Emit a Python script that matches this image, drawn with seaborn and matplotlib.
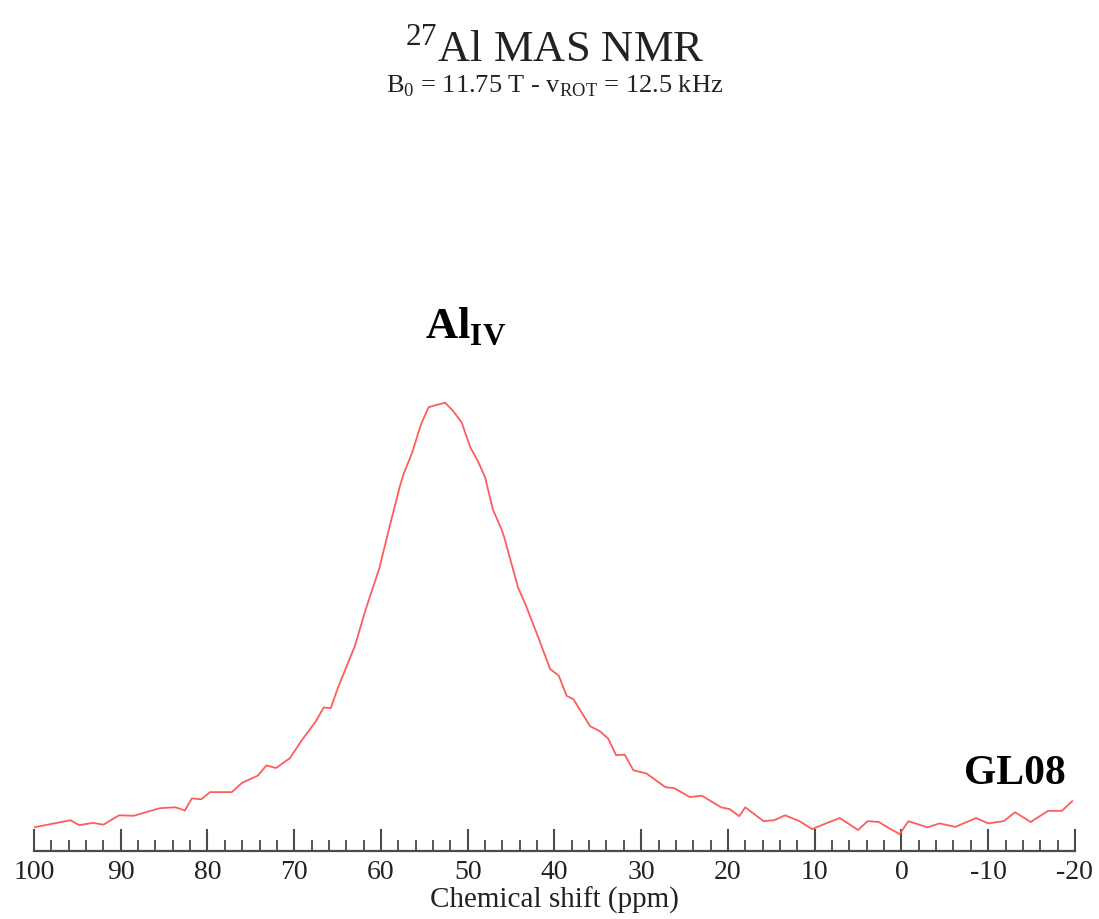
import pandas as pd
import seaborn as sns
import matplotlib.pyplot as plt

# 27Al MAS NMR spectrum of GL08 (intensity in a.u., peak = 100)
shift_ppm = [100, 98.7, 95.8, 94.8, 93.2, 92.0, 90.2, 88.5, 85.5, 83.7, 82.6, 81.8,
             80.7, 79.7, 77.2, 76.0, 74.2, 73.2, 72.1, 70.5, 69.1, 67.5, 66.6, 65.8,
             64.9, 63.0, 61.8, 60.2, 59.0, 57.8, 57.4, 56.4, 55.4, 54.5, 53.6, 52.6,
             51.7, 50.7, 49.7, 48.8, 48.0, 47.1, 46.1, 45.8, 44.2, 43.3, 42.1, 40.5,
             39.5, 38.6, 37.8, 35.9, 34.8, 33.8, 32.9, 31.9, 30.9, 29.4, 27.2, 26.2,
             24.4, 23.0, 20.8, 19.8, 18.7, 18.0, 15.9, 14.7, 13.4, 11.75, 10.3, 8.7,
             7.1, 5.0, 3.9, 2.6, 1.25, 0.2, -0.8, -3.0, -4.4, -6.2, -8.6, -10.0,
             -11.8, -13.1, -14.9, -16.9, -18.5, -19.7]
intensity = [4.9, 5.4, 6.5, 5.4, 5.9, 5.5, 7.6, 7.5, 9.2, 9.4, 8.7, 11.4,
             11.2, 12.8, 12.8, 14.9, 16.5, 18.8, 18.2, 20.4, 24.5, 28.7, 31.8, 31.6,
             36.5, 45.6, 53.5, 62.9, 72.4, 81.5, 84.1, 88.9, 95.2, 99.1, 99.6, 100.1,
             98.3, 95.7, 90.1, 86.9, 83.4, 76.2, 71.7, 70.0, 58.7, 54.7, 48.7, 40.4,
             38.9, 34.4, 33.6, 27.6, 26.5, 24.8, 21.1, 21.2, 17.7, 17.0, 13.9, 13.7,
             11.7, 12.0, 9.4, 9.0, 7.4, 9.4, 6.3, 6.5, 7.6, 6.3, 4.5, 5.8,
             7.0, 4.3, 6.3, 6.1, 4.5, 3.4, 6.3, 4.9, 5.8, 5.0, 7.0, 5.8,
             6.3, 8.3, 6.1, 8.6, 8.6, 10.8]

major_ticks = [100, 90, 80, 70, 60, 50, 40, 30, 20, 10, 0, -10, -20]
major_labels = ["100", "90", "80", "70", "60", "50", "40", "30", "20", "10", "0", "-10", "-20"]
minor_ticks = [v for v in range(-20, 101, 2)]

df = pd.DataFrame({"ppm": shift_ppm, "I": intensity})

sns.set_style("white")
plt.rcParams["font.family"] = ["Liberation Serif", "DejaVu Serif"]
plt.rcParams["mathtext.fontset"] = "custom"
plt.rcParams["mathtext.rm"] = "Liberation Serif"
plt.rcParams["mathtext.bf"] = "Liberation Serif:bold"
plt.rcParams["axes.unicode_minus"] = False

fig = plt.figure(figsize=(10.99, 9.2), dpi=100)
ax = fig.add_axes([0.0309, 0.0739, 0.9472, 0.7956])

sns.lineplot(data=df, x="ppm", y="I", ax=ax, color="#ff5c5c", linewidth=1.3,
             estimator=None, sort=False)

ax.set_xlim(100, -20)
ax.set_ylim(-0.4, 163.7)
ax.set_yticks([])
ax.set_ylabel("")

for s in ["top", "left", "right"]:
    ax.spines[s].set_visible(False)
ax.spines["bottom"].set_color("#4a4a4a")
ax.spines["bottom"].set_linewidth(1.6)

ax.set_xticks(major_ticks)
ax.set_xticklabels(major_labels)
ax.set_xticks(minor_ticks, minor=True)
ax.tick_params(axis="x", which="major", bottom=True, direction="in", length=16,
               width=1.5, color="#4a4a4a", labelsize=20, pad=6, labelcolor="#222222")
ax.tick_params(axis="x", which="minor", bottom=True, direction="in", length=8,
               width=1.3, color="#4a4a4a")
ax.set_xlabel("Chemical shift (ppm)", fontsize=21, labelpad=1, color="#222222")

# peak label and sample name
ax.text(50.2, 114.8, r"$\mathbf{Al}_{\mathbf{IV}}$", fontsize=32, ha="center",
        va="baseline", color="black")
ax.text(-18.9, 14.8, "GL08", fontsize=30, fontweight="bold", ha="right",
        va="baseline", color="black")

fig.text(0.505, 0.9326, r"$^{27}$Al MAS NMR", fontsize=32, ha="center",
         va="baseline", color="#222222")
fig.text(0.505, 0.899, r"B$_0$ = 11.75 T - v$_\mathrm{ROT}$ = 12.5 kHz", fontsize=19,
         ha="center", va="baseline", color="#222222")

fig.savefig("out.png", dpi=100, facecolor="white")
